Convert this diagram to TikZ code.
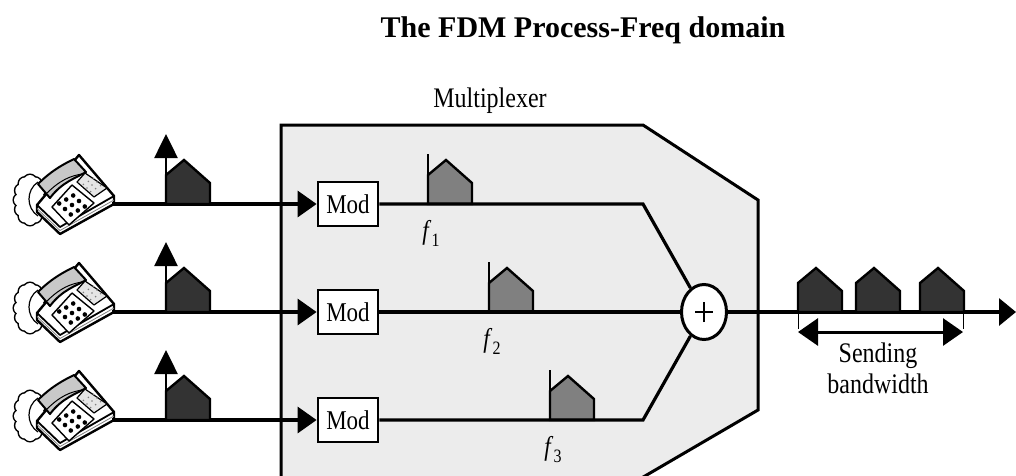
\documentclass[tikz,border=0pt]{standalone}
\usepackage{fontspec}
\setmainfont{Liberation Serif}
\usetikzlibrary{arrows.meta,shapes.geometric}
\definecolor{muxfill}{HTML}{ECECEC}
\definecolor{spdark}{HTML}{333333}
\definecolor{spmid}{HTML}{808080}
\definecolor{handset}{HTML}{C8C8C8}
\newcommand\vtall[1]{\scalebox{1}[1.18]{#1}}
\tikzset{
  wire/.style={line width=3.2pt},
  intip/.style={-{Triangle[length=19pt,width=26pt]}},
  uptip/.style={line width=2.6pt, -{Triangle[length=24pt,width=23pt]}},
  modbox/.style={draw, line width=2.8pt, fill=white, minimum width=60pt,
    minimum height=44pt, inner sep=0pt, font=\fontsize{23}{23}\selectfont},
  lbl/.style={font=\fontsize{24}{24}\selectfont, anchor=base},
  flbl/.style={font=\fontsize{23}{23}\selectfont, anchor=base},
  pics/house/.style={code={
    \draw[line width=2.4pt, fill=#1, line join=miter]
      (0,0) -- (0,-29) -- (18,-44) -- (44,-21) -- (44,0) -- cycle;}},
  pics/phone/.style={code={
    \begin{scope}[yscale=-1]
      % coiled cord
      \foreach \a in {0,30,...,330}
        \draw[line width=3pt] ({-82+10*cos(\a)},{4+19*sin(\a)}) circle (6);
      \foreach \a in {0,30,...,330}
        \fill[white] ({-82+10*cos(\a)},{4+19*sin(\a)}) circle (6);
      \fill[white] (-82,4) ellipse (10 and 19);
      \draw[line width=1.2pt] (-74,22) .. controls (-86,14) and (-86,-4) .. (-74,-12);
      % base
      \draw[line width=2.4pt, fill=white, line join=round]
        (-33,49) -- (2,8) -- (2,0) -- (-52,-30) -- (-75,-8) -- (-75,-1) -- cycle;
      \draw[line width=1.8pt, line join=round] (-75,-1) -- (-52,-23) -- (2,8);
      \draw[line width=0.8pt, gray] (-75,-4.5) -- (-52,-26.5) -- (2,4);
      % keypad
      \draw[line width=1.4pt, fill=white, line join=round]
        (-40,19) -- (-18,1) -- (-43,-21) -- (-60,-3) -- cycle;
      \foreach \i in {-1,0,1}
        \foreach \j in {-1,0,1}
          \fill ({-40-7*\i+5.8*\j},{-1-4*\i-5.5*\j}) circle (2.3);
      % side panel
      \draw[line width=1.2pt, fill=gray!20, line join=round]
        (-27,31) -- (-5,16) -- (-18,7) -- (-35,22) -- cycle;
      \foreach \i in {-1,0,1}
        \foreach \j in {-1,0,1}
          \fill[gray] ({-20-5*\i+3.6*\j},{19-3*\i-3.6*\j}) circle (0.9);
      % handset
      \draw[line width=2pt, fill=handset, line join=round]
        (-74,20) .. controls (-60,34) and (-48,40) .. (-38,45)
        -- (-26,32)
        .. controls (-36,26) and (-50,22) .. (-62,6) -- cycle;
      \draw[line width=1pt] (-66,10) .. controls (-52,24) and (-42,28) .. (-30,30);
    \end{scope}}},
}
\begin{document}
\begin{tikzpicture}[x=1pt,y=-1pt]
\useasboundingbox (0,0) rectangle (1016,475);
\clip (0,0) rectangle (1016,475);

% multiplexer housing
\draw[line width=3pt, fill=muxfill, line join=miter]
  (281,125) -- (643,125) -- (758,200) -- (758,410) -- (621,490) -- (281,490) -- cycle;

\node[font=\fontsize{30}{30}\selectfont\bfseries, anchor=base] (title) at (583,37)
  {The FDM Process-Freq domain};
\node[lbl] (muxlabel) at (490,107) {\vtall{Multiplexer}};

% summing junction
\node[ellipse, draw, line width=3pt, fill=white, minimum width=45pt,
  minimum height=55pt, inner sep=0pt,
  path picture={
    \draw[line width=2.6pt] ([xshift=-9pt]path picture bounding box.center)
      -- ([xshift=9pt]path picture bounding box.center);
    \draw[line width=2.6pt] ([yshift=-10pt]path picture bounding box.center)
      -- ([yshift=10pt]path picture bounding box.center);}]
  (sum) at (704,312) {};

% three input channels
\foreach \r/\y/\s in {1/204/428, 2/312/489, 3/420/550}{
  \coordinate (ph\r) at (112,\y);
  \pic at (ph\r) {phone};
  \node[modbox] (mod\r) at (348,\y) {\vtall{Mod}};
  \draw[wire, intip] (ph\r) -- (mod\r);
  % baseband spectrum
  \pic at (166,\y) {house=spdark};
  \coordinate (in\r) at (166,\y);
  \coordinate (inT\r) at (166,\y-70);
  \draw[uptip] (in\r) -- (inT\r);
  % shifted spectrum
  \pic at (\s,\y) {house=spmid};
  \coordinate (sb\r) at (\s,\y);
  \coordinate (st\r) at (\s,\y-50);
  \draw[line width=2.4pt] (sb\r) -- (st\r);
  \node[flbl] (f\r) at (\s+3,\y+35)
    {\vtall{\textit{f}\raisebox{-0.28em}{\fontsize{16}{16}\selectfont\r}}};
}

% paths into the adder
\coordinate (k1) at (643,204);
\coordinate (k3) at (643,420);
\draw[wire, line join=miter] (mod1) -- (k1) -- (sum);
\draw[wire] (mod2) -- (sum);
\draw[wire, line join=miter] (mod3) -- (k3) -- (sum);

% output line and composite spectrum
\coordinate (out) at (1016,312);
\draw[wire, -{Triangle[length=17pt,width=27pt]}] (sum) -- (out);
\pic at (798,312) {house=spdark};
\pic at (856,312) {house=spdark};
\pic at (920,312) {house=spdark};

% sending bandwidth
\coordinate (bwL) at (798,332);
\coordinate (bwR) at (963,332);
\draw[line width=0.9pt] (798,312) -- (798,329);
\draw[line width=0.9pt] (963,312) -- (963,329);
\draw[line width=3pt, {Triangle[length=20pt,width=27pt]}-{Triangle[length=20pt,width=27pt]}]
  (bwL) -- (bwR);
\node[lbl] (bw1) at (878,362) {\vtall{Sending}};
\node[lbl] (bw2) at (878,393) {\vtall{bandwidth}};
\end{tikzpicture}
\end{document}
